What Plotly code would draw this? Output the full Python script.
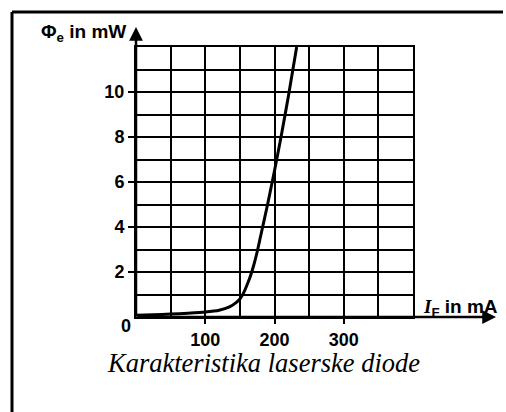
import plotly.graph_objects as go

# Data
current_mA = [0, 25, 50, 75, 100, 120, 135, 145, 150, 155, 160, 165, 170, 175, 180, 190, 200, 210, 220, 232]
power_mW = [0.08, 0.1, 0.13, 0.17, 0.22, 0.3, 0.45, 0.65, 0.8, 1.05, 1.4, 1.8, 2.3, 2.9, 3.6, 5.0, 6.5, 8.1, 9.8, 12.0]
x_ticks = [100, 200, 300]
x_minor = [50, 150, 250, 350]
y_ticks = [2, 4, 6, 8, 10]
y_minor = [1, 3, 5, 7, 9, 11]

W, H = 506, 412
L, R, T, B = 136, 413, 47, 317


def px(xp):
    return (xp - L) / (R - L)


def py(yp):
    return (B - yp) / (B - T)


FONT = "Liberation Sans, Arial, sans-serif"
TICKFONT = dict(family=FONT, size=18, color="black", weight="bold")

fig = go.Figure()
fig.add_trace(go.Scatter(
    x=current_mA, y=power_mW, mode="lines",
    line=dict(color="black", width=3, shape="spline", smoothing=0.6),
    showlegend=False, hoverinfo="skip",
))

grid = dict(showgrid=True, gridcolor="black", gridwidth=2)
frame = dict(color="black", width=3)

fig.update_layout(
    width=W, height=H,
    margin=dict(l=L, r=W - R, t=T, b=H - B),
    paper_bgcolor="white", plot_bgcolor="white",
    xaxis=dict(
        range=[0, 400], tickvals=x_ticks, ticktext=[str(v) for v in x_ticks],
        ticks="outside", ticklen=5, tickwidth=2, tickcolor="black",
        showline=True, mirror=True, linecolor="black", linewidth=2,
        zeroline=False, fixedrange=True, tickfont=TICKFONT,
        minor=dict(tickvals=x_minor, ticks="", **grid),
        **grid,
    ),
    yaxis=dict(
        range=[0, 12], tickvals=y_ticks, ticktext=[str(v) for v in y_ticks],
        ticks="outside", ticklen=6, tickwidth=2, tickcolor="black",
        showline=True, mirror=True, linecolor="black", linewidth=2,
        zeroline=False, fixedrange=True, tickfont=TICKFONT,
        minor=dict(tickvals=y_minor, ticks="", **grid),
        **grid,
    ),
    shapes=[
        dict(type="line", xref="paper", yref="paper",
             x0=px(12), x1=px(503), y0=py(12), y1=py(12), line=frame, layer="below"),
        dict(type="line", xref="paper", yref="paper",
             x0=px(12), x1=px(12), y0=py(12), y1=py(412), line=frame, layer="below"),
    ],
)

annotations = [
    # y axis with arrow
    dict(xref="paper", yref="paper", x=0, y=py(27), ax=0, ay=(B - 27),
         axref="pixel", ayref="pixel", text="", showarrow=True,
         arrowhead=2, arrowsize=1.1, arrowwidth=2.5, arrowcolor="black"),
    # x axis with arrow
    dict(xref="paper", yref="paper", x=px(496), y=0, ax=-(496 - L), ay=0,
         axref="pixel", ayref="pixel", text="", showarrow=True,
         arrowhead=2, arrowsize=1.1, arrowwidth=2.5, arrowcolor="black"),
    dict(xref="paper", yref="paper", x=px(128), y=py(33), xanchor="right", yanchor="middle",
         text="Φ<sub>e</sub> in mW", showarrow=False,
         font=dict(family=FONT, size=19, color="black", weight="bold")),
    dict(xref="paper", yref="paper", x=px(421), y=py(308), xanchor="left", yanchor="middle",
         text="<span style='font-family:Liberation Serif'><i>I</i></span><sub>F</sub> in mA",
         showarrow=False,
         font=dict(family=FONT, size=19, color="black", weight="bold")),
    dict(xref="paper", yref="paper", x=px(126), y=py(326), xanchor="center", yanchor="middle",
         text="0", showarrow=False, font=TICKFONT),
    dict(xref="paper", yref="paper", x=px(263), y=py(363), xanchor="center", yanchor="middle",
         text="Karakteristika laserske diode", showarrow=False,
         font=dict(family="Liberation Serif, Times New Roman, serif", size=26.5,
                   color="black", style="italic")),
]
fig.update_layout(annotations=annotations)

fig.write_html(
    "out.html",
    config={"displayModeBar": False, "staticPlot": True},
    post_script="document.body.style.margin='0';document.body.style.overflow='hidden';",
)
